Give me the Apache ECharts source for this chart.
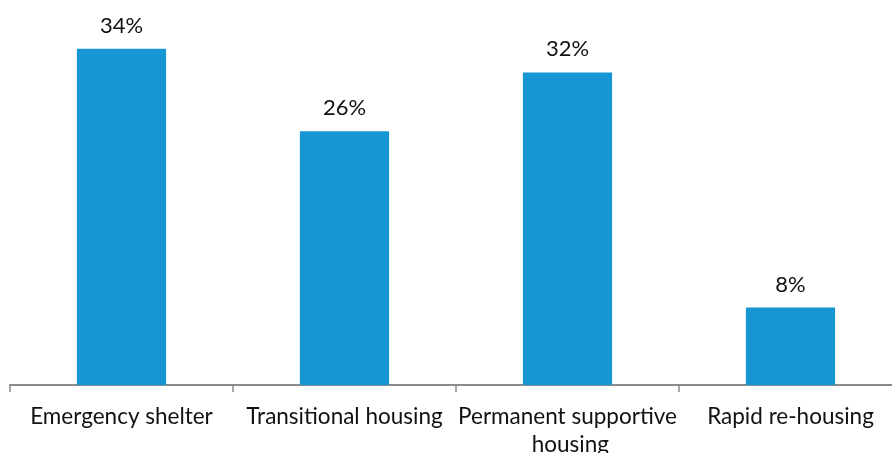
<!DOCTYPE html>
<html>
<head>
<meta charset="utf-8">
<script src="https://cdn.jsdelivr.net/npm/echarts@6/dist/echarts.min.js"></script>
<style>
html,body{margin:0;padding:0;background:#fff;overflow:hidden;}
#chart{width:892px;height:453px;}
</style>
</head>
<body>
<div id="chart"></div>
<script>
const categories = ["Emergency shelter", "Transitional housing", "Permanent supportive housing", "Rapid re-housing"];
const shares = [34.3, 25.9, 31.9, 7.9];

const chart = echarts.init(document.getElementById('chart'), null, {renderer: 'canvas'});
chart.setOption({
  animation: false,
  grid: {left: 10, width: 892, top: 42, height: 343, containLabel: false, outerBoundsMode: 'none'},
  xAxis: {
    type: 'category',
    data: categories,
    axisLine: {lineStyle: {color: '#8a8a8a', width: 2}},
    axisTick: {show: true, length: 7, lineStyle: {color: '#8a8a8a', width: 1.5}},
    axisLabel: {
      interval: 0,
      margin: 18,
      fontFamily: 'Lato',
      fontSize: 22.5,
      color: '#111',
      width: 225,
      overflow: 'break',
      lineHeight: 28
    }
  },
  yAxis: {
    type: 'value',
    min: 0,
    max: 35,
    show: false
  },
  series: [{
    type: 'bar',
    data: shares,
    barWidth: '40%',
    itemStyle: {color: '#1696d2'},
    label: {
      show: true,
      position: 'top',
      distance: 12,
      fontFamily: 'Lato',
      fontSize: 22,
      color: '#111',
      formatter: p => Math.round(p.value) + '%'
    }
  }]
});
</script>
</body>
</html>
